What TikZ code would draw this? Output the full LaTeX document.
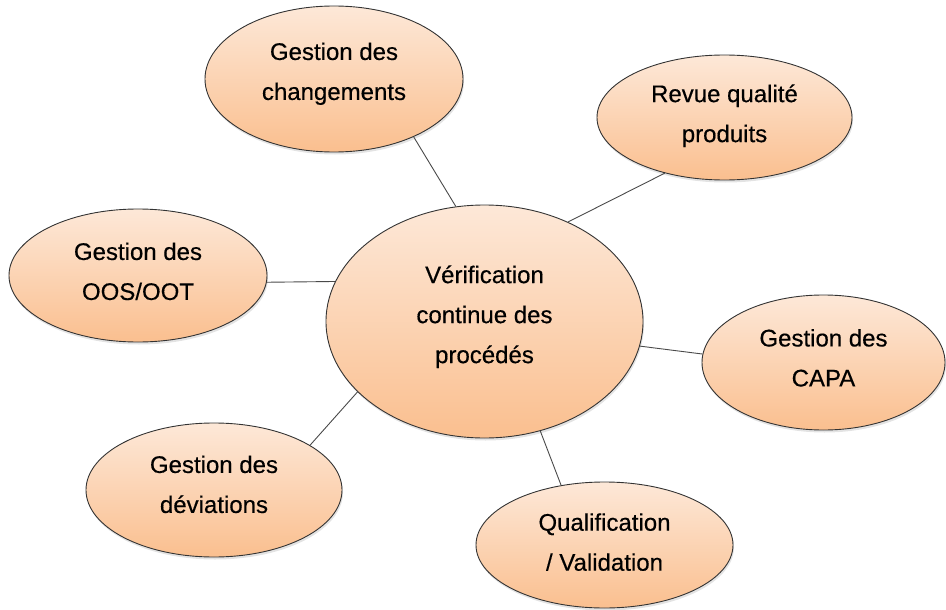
\documentclass[tikz,border=0pt]{standalone}
\usepackage{fontspec}
\setmainfont{Liberation Sans}[FakeBold=0.4]
\usetikzlibrary{shapes.geometric,shadows}
\definecolor{toporange}{HTML}{FDE8D8}
\definecolor{botorange}{HTML}{FABF8F}
\definecolor{edgegray}{HTML}{333333}
\definecolor{linegray}{HTML}{4A4A4A}
\begin{document}
\begin{tikzpicture}[x=1pt,y=-1pt,
  bubble/.style={ellipse, draw=edgegray, line width=0.9pt, inner sep=0pt,
    top color=toporange, bottom color=botorange, align=center,
    font=\fontsize{24}{40}\selectfont, text=black, text depth=8.5pt,
    drop shadow={shadow xshift=1pt, shadow yshift=-2.5pt, opacity=0.22}},
  link/.style={draw=linegray, line width=0.9pt}]
\useasboundingbox (0,0) rectangle (946,610);
\node[bubble, minimum width=317pt, minimum height=233pt, text depth=14.5pt] (main) at (484.5,321.5) {Vérification\\continue des\\procédés};
\node[bubble, minimum width=258pt, minimum height=146pt, text depth=15.5pt] (chg) at (334,79) {Gestion des\\changements};
\node[bubble, minimum width=255pt, minimum height=125pt] (rev) at (724.5,117.5) {Revue qualité\\produits};
\node[bubble, minimum width=243pt, minimum height=135pt, text depth=9.5pt] (capa) at (823.5,362.5) {Gestion des\\CAPA};
\node[bubble, minimum width=258pt, minimum height=133pt] (oos) at (138,275.5) {Gestion des\\OOS/OOT};
\node[bubble, minimum width=256pt, minimum height=134pt, text depth=11.5pt] (dev) at (214,490) {Gestion des\\déviations};
\node[bubble, minimum width=257pt, minimum height=126pt, text depth=6pt] (qual) at (604.5,545) {Qualification\\/ Validation};
\draw[link] (chg.-36.8) -- (main.104.2);
\draw[link] (rev.-137.4) -- (main.50);
\draw[link] (main.-9.8) -- (capa.176);
\draw[link] (oos.-3.5) -- (main.165);
\draw[link] (dev.25) -- (main.209);
\draw[link] (main.-63) -- (qual.126.6);
\end{tikzpicture}
\end{document}
